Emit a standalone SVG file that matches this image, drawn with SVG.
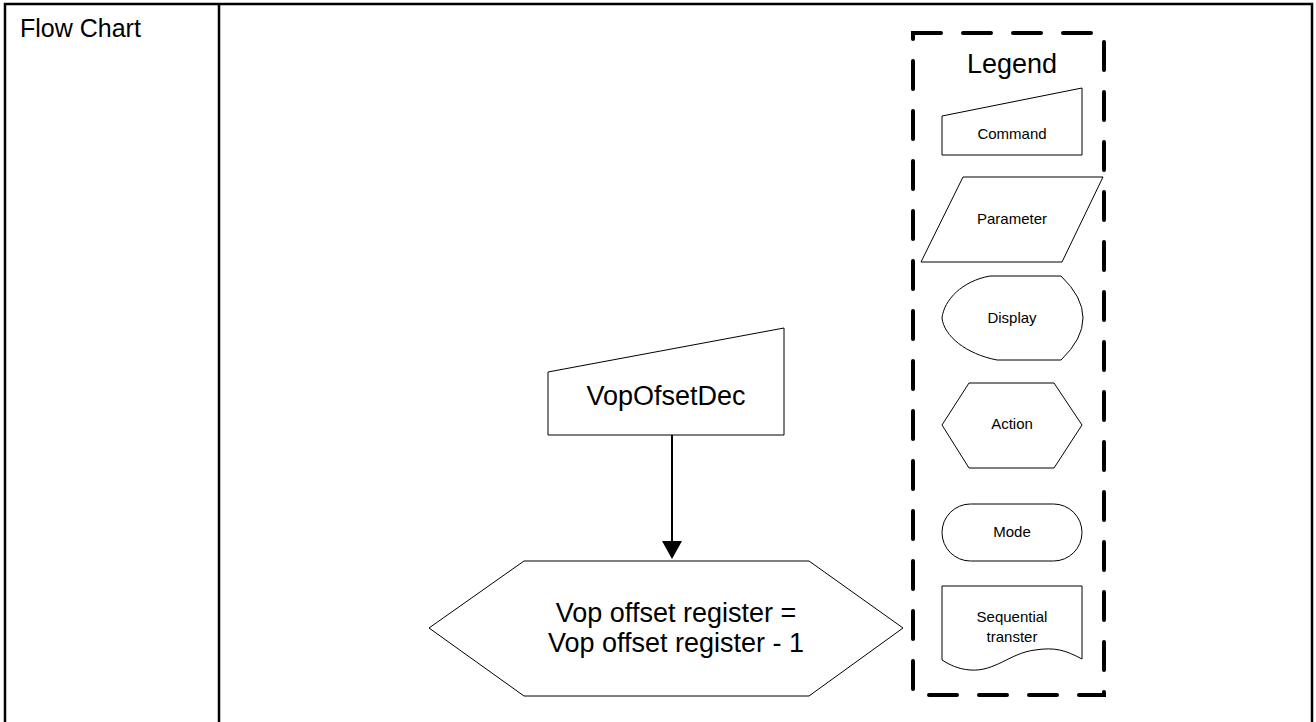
<svg xmlns="http://www.w3.org/2000/svg" width="1316" height="722" viewBox="0 0 1316 722">
  <style>
    .frame { fill: none; stroke: #000; stroke-width: 2.5; }
    .shape { fill: #fff; stroke: #000; stroke-width: 1; }
    .txt { font-family: "Liberation Sans", Arial, sans-serif; fill: #000; text-anchor: middle; }
    .big { font-size: 27px; }
    .small { font-size: 15px; }
    .legendbox { fill: none; stroke: #000; stroke-width: 4; stroke-dasharray: 28 22; stroke-linecap: round; }
  </style>
  <rect width="1316" height="722" fill="#fff"/>

  <g id="frame">
    <path class="frame" d="M5,722 L5,4 L1312,4 L1312,722"/>
    <line class="frame" x1="219" y1="4" x2="219" y2="722"/>
    <text class="txt" x="20" y="37" font-size="25" style="text-anchor:start">Flow Chart</text>
  </g>

  <g id="connectors">
    <line x1="672" y1="435" x2="672" y2="541" stroke="#000" stroke-width="2"/>
    <path d="M662,541 L682,541 L672,559 Z" fill="#000"/>
  </g>

  <g id="node-command">
    <path class="shape" d="M548,372 L784,328 L784,435 L548,435 Z"/>
    <text class="txt big" x="666" y="405">VopOfsetDec</text>
  </g>

  <g id="node-action">
    <path class="shape" d="M429,628 L524,561 L809,561 L903,628 L809,696 L524,696 Z"/>
    <text class="txt big" x="676" y="622">Vop offset register =</text>
    <text class="txt big" x="676" y="652">Vop offset register - 1</text>
  </g>

  <g id="legend">
    <rect class="legendbox" x="913" y="33" width="191" height="662"/>
    <text class="txt big" x="1012" y="73">Legend</text>

    <g id="legend-command">
      <path class="shape" d="M942,116 L1082,88 L1082,155 L942,155 Z"/>
      <text class="txt small" x="1012" y="139">Command</text>
    </g>
    <g id="legend-parameter">
      <path class="shape" d="M963,177 L1103,177 L1062,262 L921,262 Z"/>
      <text class="txt small" x="1012" y="224">Parameter</text>
    </g>
    <g id="legend-display">
      <path class="shape" d="M990,276 L1061,276 Q1105,318 1061,360 L997,360 C966,354 944,336 942,318 C944,300 962,281 990,276 Z"/>
      <text class="txt small" x="1012" y="323">Display</text>
    </g>
    <g id="legend-action">
      <path class="shape" d="M942,425 L969,383 L1054,383 L1082,425 L1054,468 L969,468 Z"/>
      <text class="txt small" x="1012" y="429">Action</text>
    </g>
    <g id="legend-mode">
      <rect class="shape" x="942" y="504" width="140" height="57" rx="28.5" ry="28.5"/>
      <text class="txt small" x="1012" y="537">Mode</text>
    </g>
    <g id="legend-sequential">
      <path class="shape" d="M942,586 L1082,586 L1082,659 C1065,650 1055,647 1035,650 C1010,653 995,672 970,670 C958,669 950,665 942,660 Z"/>
      <text class="txt small" x="1012" y="622">Sequential</text>
      <text class="txt small" x="1012" y="642">transter</text>
    </g>
  </g>
</svg>
